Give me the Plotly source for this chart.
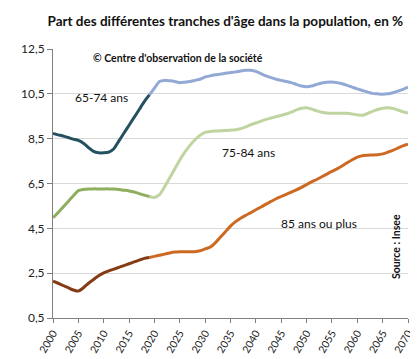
import plotly.graph_objects as go

hist_years = list(range(2000, 2020))
proj_years = list(range(2019, 2071))

a6574_hist = [8.73, 8.67, 8.62, 8.55, 8.48, 8.42, 8.30, 8.10, 7.93, 7.87,
              7.87, 7.90, 8.05, 8.40, 8.75, 9.10, 9.45, 9.80, 10.15, 10.45]
a6574_proj = [10.45, 10.75, 11.05, 11.10, 11.08, 11.05, 11.00, 11.02, 11.05, 11.10,
              11.15, 11.25, 11.30, 11.35, 11.38, 11.42, 11.45, 11.48, 11.52, 11.55,
              11.55, 11.50, 11.40, 11.30, 11.22, 11.15, 11.10, 11.05, 11.00, 10.92,
              10.85, 10.82, 10.85, 10.92, 10.98, 11.02, 11.03, 11.00, 10.95, 10.88,
              10.80, 10.72, 10.65, 10.58, 10.52, 10.50, 10.48, 10.50, 10.55, 10.62,
              10.70, 10.80]

a7584_hist = [4.97, 5.20, 5.45, 5.70, 5.95, 6.18, 6.23, 6.25, 6.26, 6.26,
              6.26, 6.26, 6.25, 6.23, 6.20, 6.17, 6.12, 6.05, 5.98, 5.92]
a7584_proj = [5.92, 5.88, 6.00, 6.35, 6.75, 7.15, 7.55, 7.90, 8.20, 8.45,
              8.65, 8.78, 8.82, 8.84, 8.85, 8.86, 8.88, 8.90, 8.95, 9.03,
              9.12, 9.20, 9.28, 9.36, 9.42, 9.48, 9.54, 9.60, 9.68, 9.78,
              9.86, 9.88, 9.82, 9.74, 9.68, 9.64, 9.63, 9.63, 9.63, 9.63,
              9.60, 9.56, 9.54, 9.62, 9.72, 9.80, 9.86, 9.88, 9.85, 9.78,
              9.70, 9.64]

a85_hist = [2.14, 2.05, 1.95, 1.85, 1.75, 1.70, 1.85, 2.05, 2.22, 2.38,
            2.51, 2.60, 2.68, 2.76, 2.84, 2.92, 3.00, 3.08, 3.16, 3.20]
a85_proj = [3.20, 3.25, 3.30, 3.35, 3.40, 3.44, 3.46, 3.46, 3.46, 3.46,
            3.50, 3.58, 3.66, 3.85, 4.10, 4.35, 4.60, 4.80, 4.95, 5.08,
            5.20, 5.33, 5.45, 5.58, 5.70, 5.82, 5.92, 6.02, 6.12, 6.22,
            6.33, 6.45, 6.57, 6.68, 6.80, 6.92, 7.04, 7.15, 7.28, 7.42,
            7.56, 7.68, 7.74, 7.76, 7.77, 7.78, 7.82, 7.90, 7.98, 8.08,
            8.18, 8.25]

x_ticks = list(range(2000, 2071, 5))
y_ticks = [0.5, 2.5, 4.5, 6.5, 8.5, 10.5, 12.5]

FONT = "Lato"

fig = go.Figure()
series = [
    (proj_years, a6574_proj, "#93a9d5"),
    (proj_years, a7584_proj, "#bfd4a0"),
    (proj_years, a85_proj, "#cc6a24"),
    (hist_years, a6574_hist, "#24505f"),
    (hist_years, a7584_hist, "#8fae5e"),
    (hist_years, a85_hist, "#853b14"),
]
for xs, ys, col in series:
    fig.add_trace(go.Scatter(x=xs, y=ys, mode="lines",
                             line=dict(color=col, width=3, shape="spline", smoothing=0.6),
                             showlegend=False, hoverinfo="skip"))

annots = [
    dict(text="<b>© Centre d'observation de la société</b>", x=2007.5, y=12.1,
         xanchor="left", font=dict(size=10.5)),
    dict(text="65-74 ans", x=2009.5, y=10.35, xanchor="center", font=dict(size=12)),
    dict(text="75-84 ans", x=2038.5, y=7.9, xanchor="center", font=dict(size=12)),
    dict(text="85 ans ou plus", x=2052.5, y=4.7, xanchor="center", font=dict(size=12)),
    dict(text="<b>Source : Insee</b>", x=2067.6, y=3.7, xanchor="center", textangle=-90,
         font=dict(size=10.5)),
]
for a in annots:
    a.update(xref="x", yref="y", showarrow=False)
    a["font"].update(family=FONT, color="#111111")
    fig.add_annotation(**a)

fig.update_layout(
    width=418, height=359,
    margin=dict(l=45, r=15, t=41, b=45),
    paper_bgcolor="white", plot_bgcolor="white",
    separators=", ",
    font=dict(family=FONT, color="#222222", size=11),
    title=dict(text="<b>Part des différentes tranches d'âge dans la population, en %</b>",
               x=0.52, xanchor="center", y=0.975, yanchor="top",
               font=dict(family=FONT, size=13.5, color="#111111")),
    xaxis=dict(range=[2000, 2070], tickvals=x_ticks, ticktext=[str(v) for v in x_ticks],
               tickangle=-60, showgrid=False, showline=True, linecolor="#808080",
               ticks="outside", ticklen=4, tickcolor="#808080",
               tickfont=dict(size=10.5, family=FONT), zeroline=False),
    yaxis=dict(range=[0.5, 12.5], tickvals=y_ticks, tickformat=".1f",
               showgrid=True, gridcolor="#d9d9d9", gridwidth=1,
               showline=True, linecolor="#808080", ticks="outside", ticklen=5,
               tickcolor="#808080", tickfont=dict(size=12, family=FONT), zeroline=False),
)

fig.write_html("out.html")
